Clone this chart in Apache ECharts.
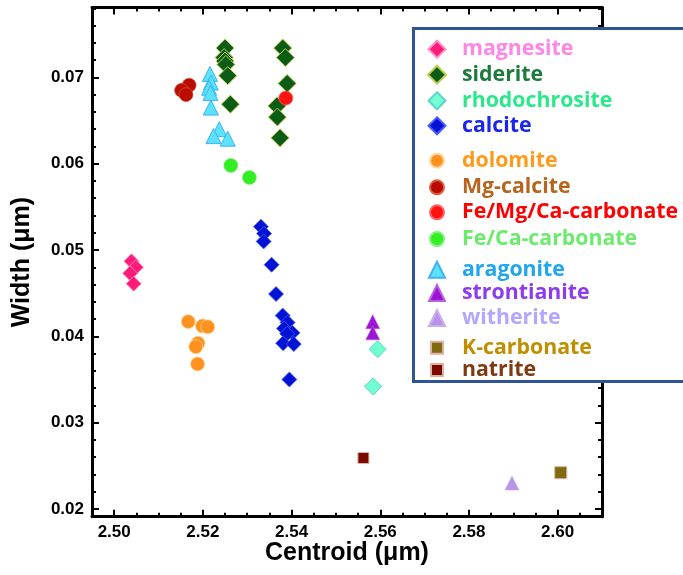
<!DOCTYPE html>
<html>
<head>
<meta charset="utf-8">
<script src="https://cdn.jsdelivr.net/npm/echarts@6/dist/echarts.min.js"></script>
<style>html,body{margin:0;padding:0;background:#fff}#c{width:683px;height:575px}</style>
</head>
<body>
<div id="c"></div>
<script>
// ---- data (Centroid µm, Width µm) ----
const magnesite = [[2.5039,0.0487],[2.5049,0.0480],[2.5036,0.0473],[2.5044,0.0461]];
const siderite = [[2.5250,0.0734],[2.5248,0.0723],[2.5250,0.0719],[2.5252,0.0715],[2.5256,0.0702],[2.5262,0.0669],
                  [2.5380,0.0734],[2.5386,0.0723],[2.5390,0.0693],[2.5367,0.0667],[2.5368,0.0654],[2.5374,0.0630]];
const rhodochrosite = [[2.5594,0.0385],[2.5584,0.0342]];
const calcite = [[2.5331,0.0527],[2.5338,0.0519],[2.5337,0.0510],[2.5355,0.0483],[2.5365,0.0449],[2.5380,0.0424],
                 [2.5391,0.0416],[2.5383,0.0409],[2.5402,0.0404],[2.5390,0.0403],[2.5381,0.0392],[2.5405,0.0391],[2.5395,0.0350]];
const dolomite = [[2.5167,0.0417],[2.5199,0.0412],[2.5211,0.0411],[2.5189,0.0392],[2.5184,0.0388],[2.5188,0.0368]];
const mgCalcite = [[2.5169,0.0691],[2.5152,0.0685],[2.5162,0.0680]];
const feMgCa = [[2.5387,0.0676]];
const feCa = [[2.5263,0.0598],[2.5305,0.0584]];
const aragonite = [[2.5216,0.0704],[2.5218,0.0694],[2.5214,0.0688],[2.5217,0.0682],[2.5218,0.0665],
                   [2.5237,0.0640],[2.5224,0.0632],[2.5256,0.0629]];
const strontianite = [[2.5583,0.0417],[2.5583,0.0404]];
const witherite = [[2.5897,0.0230]];
const kCarbonate = [[2.6007,0.0242]];
const natrite = [[2.5562,0.0259]];

const seriesNames = ['magnesite','siderite','rhodochrosite','calcite','dolomite','Mg-calcite','Fe/Mg/Ca-carbonate',
  'Fe/Ca-carbonate','aragonite','strontianite','witherite','K-carbonate','natrite'];
const seriesData = [magnesite, siderite, rhodochrosite, calcite, dolomite, mgCalcite, feMgCa, feCa, aragonite,
  strontianite, witherite, kCarbonate, natrite];

// ---- ticks ----
const xMajorTicks = [2.50, 2.52, 2.54, 2.56, 2.58, 2.60];
const xMinorTicks = [2.505,2.51,2.515,2.525,2.53,2.535,2.545,2.55,2.555,2.565,2.57,2.575,2.585,2.59,2.595,2.605];
const yMajorTicks = [0.02, 0.03, 0.04, 0.05, 0.06, 0.07];
const yMinorTicks = [0.022,0.024,0.026,0.028,0.032,0.034,0.036,0.038,0.042,0.044,0.046,0.048,
  0.052,0.054,0.056,0.058,0.062,0.064,0.066,0.068,0.072,0.074,0.076,0.078];

// ---- styles ----
const styles = [
  {symbol:'diamond', size:15, color:'#FF1B78', border:'#FF8AC8', bw:0.8, text:'#FF85E6', leg:17},
  {symbol:'diamond', size:18, color:'#0B5C17', border:'#C2CC4E', bw:1, text:'#1E7A3C', leg:18},
  {symbol:'diamond', size:17, color:'#72FFD2', border:'#5AD6C8', bw:1, text:'#2BE88B', leg:17},
  {symbol:'diamond', size:15, color:'#0012D2', border:'#4A5CFF', bw:0.8, text:'#1A26EE', leg:17},
  {symbol:'circle', size:14, color:'#FF921E', border:'#FFD6A0', bw:0.8, text:'#FF9A1A', leg:14},
  {symbol:'circle', size:14, color:'#BB0C00', border:'#D86040', bw:0.6, text:'#B5651D', leg:14},
  {symbol:'circle', size:14, color:'#FF1212', border:'#FF6060', bw:0.6, text:'#FF0000', leg:14},
  {symbol:'circle', size:14, color:'#33EE22', border:'#80F080', bw:0.6, text:'#6BEB6B', leg:14},
  {symbol:'triangle', size:15, color:'#5CE1FF', border:'#3DB4F0', bw:1, text:'#1EA7EC', leg:16},
  {symbol:'triangle', size:14, color:'#9C15D6', border:'#B860E0', bw:0.6, text:'#8C3BEF', leg:16},
  {symbol:'triangle', size:14, color:'#B794E6', border:'#C8B0F0', bw:0.6, text:'#B3A6FF', leg:16},
  {symbol:'rect', size:12, color:'#7F6A12', border:'#E0B0A0', bw:1, text:'#BF8F00', leg:12},
  {symbol:'rect', size:11, color:'#7A0800', border:'#E0B0A0', bw:1, text:'#7F3A14', leg:12}
];
const legendRowCenters = [46.7,72.7,98.3,123.3,156.7,183.3,208.3,235,266.7,290,315,342.7,365];
const legendIconX = 436, legendTextX = 461;

const tickFont = {fontSize:17, fontWeight:'bold', fontFamily:'Liberation Sans', color:'#000'};
const titleFont = {fontSize:25, fontWeight:'bold', fontFamily:'Liberation Sans', color:'#000'};
const lineStyle = {color:'#000', width:3};
const gridRect = {left:92, right:81, top:7.5, bottom:58.3};
const XMIN = 2.495, XMAX = 2.61, YMIN = 0.0191, YMAX = 0.0781;

function xAx(grid, pos, ticks, len, line, labels) {
  return {
    type:'value', gridIndex:grid, position:pos, min:XMIN, max:XMAX,
    axisLine:{show:line, onZero:false, lineStyle:lineStyle},
    axisTick:{show:true, inside:true, length:len, customValues:ticks, lineStyle:{color:'#000', width:2}},
    axisLabel: labels ? Object.assign({show:true, customValues:xMajorTicks, margin:7,
      formatter:function(v){return v.toFixed(2);}}, tickFont) : {show:false},
    splitLine:{show:false},
    name: labels ? 'Centroid (μm)' : '', nameLocation:'middle', nameGap:24, nameMoveOverlap:false,
    nameTextStyle:titleFont
  };
}
function yAx(grid, pos, ticks, len, line, labels) {
  return {
    type:'value', gridIndex:grid, position:pos, min:YMIN, max:YMAX,
    axisLine:{show:line, onZero:false, lineStyle:lineStyle},
    axisTick:{show:true, inside:true, length:len, customValues:ticks, lineStyle:{color:'#000', width:2}},
    axisLabel: labels ? Object.assign({show:true, customValues:yMajorTicks, margin:8,
      formatter:function(v){return v.toFixed(2);}}, tickFont) : {show:false},
    splitLine:{show:false},
    name: labels ? 'Width (μm)' : '', nameLocation:'middle', nameGap:57, nameMoveOverlap:false,
    nameTextStyle:titleFont
  };
}

const series = seriesNames.map(function(n, i){
  const s = styles[i];
  return {
    name:n, type:'scatter', xAxisIndex:0, yAxisIndex:0, data:seriesData[i],
    symbol:s.symbol, symbolSize:s.size,
    itemStyle:{color:s.color, borderColor:s.border, borderWidth:s.bw, opacity:1},
    emphasis:{disabled:true}
  };
});

const legends = seriesNames.map(function(n, i){
  const s = styles[i];
  return {
    data:[n], orient:'vertical', left:legendIconX - s.leg/2, top:legendRowCenters[i] - s.leg/2, padding:0,
    itemWidth:s.leg, itemHeight:s.leg, selectedMode:false, z:60,
    textStyle:{color:s.text, fontSize:21.3, fontWeight:'bold', fontFamily:'Open Sans', lineHeight:22,
      padding:[0,0,0,legendTextX - (legendIconX + s.leg/2 + 5)]}
  };
});

const chart = echarts.init(document.getElementById('c'), null, {renderer:'canvas'});
chart.setOption({
  animation:false,
  backgroundColor:'#fff',
  grid:[Object.assign({}, gridRect), Object.assign({}, gridRect)],
  xAxis:[
    xAx(0,'bottom',xMajorTicks,7,true,true),
    xAx(0,'top',xMajorTicks,7,true,false),
    xAx(1,'bottom',xMinorTicks,4,false,false),
    xAx(1,'top',xMinorTicks,4,false,false)
  ],
  yAxis:[
    yAx(0,'left',yMajorTicks,7,true,true),
    yAx(0,'right',yMajorTicks,7,true,false),
    yAx(1,'left',yMinorTicks,4,false,false),
    yAx(1,'right',yMinorTicks,4,false,false)
  ],
  graphic:[{
    type:'rect', z:50, silent:true,
    shape:{x:413.5, y:28.5, width:290, height:353},
    style:{fill:'#fff', stroke:'#2F5597', lineWidth:3}
  }],
  legend:legends,
  series:series
});
</script>
</body>
</html>
